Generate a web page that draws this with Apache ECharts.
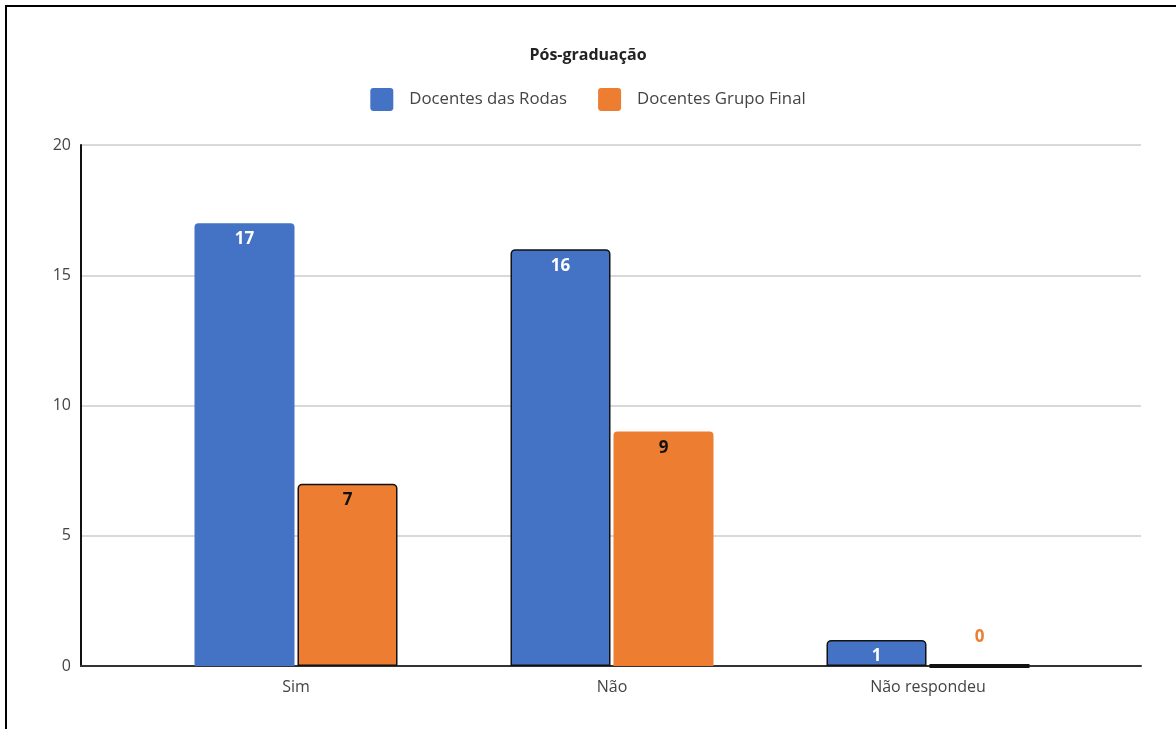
<!DOCTYPE html>
<html>
<head>
<meta charset="utf-8">
<script src="https://cdn.jsdelivr.net/npm/echarts@6/dist/echarts.min.js"></script>
<style>
  html, body { margin: 0; padding: 0; background: #fff; }
  #frame { position: absolute; left: 5px; top: 5px; width: 1180px; height: 740px;
           border-top: 2px solid #000; border-left: 2px solid #000; box-sizing: border-box; }
  #chart { position: absolute; left: 0; top: 0; width: 1176px; height: 729px; }
</style>
</head>
<body>
<div id="frame"></div>
<div id="chart"></div>
<script>
// Respostas sobre pós-graduação
const categories = ['Sim', 'Não', 'Não respondeu'];
const seriesNames = ['Docentes das Rodas', 'Docentes Grupo Final'];
const docentesRodas = [17, 16, 1];
const docentesGrupoFinal = [7, 9, 0];
const yTicks = [0, 5, 10, 15, 20];

const BLUE = '#4472C4';
const ORANGE = '#ED7D31';
const FONT = '"Open Sans", "Noto Sans", sans-serif';
const SQUARE = 'path://M3,0 H19 Q22,0 22,3 V19 Q22,22 19,22 H3 Q0,22 0,19 V3 Q0,0 3,0 Z';

// bars drawn with a dark outline (series index -> category indexes)
const outlined = { 0: [1, 2], 1: [0, 2] };

function buildData(values, seriesIdx, color) {
  return values.map((v, i) => {
    const item = { value: v };
    if (outlined[seriesIdx].includes(i)) {
      item.itemStyle = { borderColor: '#111', borderWidth: v === 0 ? 4 : 1.5 };
    }
    if (v === 0) {
      item.label = { position: 'top', distance: 18, color: color };
    }
    return item;
  });
}

const chart = echarts.init(document.getElementById('chart'));
chart.setOption({
  backgroundColor: 'transparent',
  animation: false,
  title: {
    text: 'Pós-graduação',
    left: 'center',
    top: 42,
    textStyle: { fontFamily: FONT, fontSize: 16, fontWeight: 'bold', color: '#222' }
  },
  legend: {
    top: 83,
    left: 'center',
    icon: SQUARE,
    itemWidth: 23,
    itemHeight: 23,
    itemGap: 31,
    data: seriesNames,
    textStyle: { fontFamily: FONT, fontSize: 16.8, color: '#444', padding: [0, 0, 0, 11] }
  },
  grid: [
    { left: 81, top: 145, width: 1060, height: 521 },
    { left: 138, top: 145, width: 948, height: 521 }
  ],
  xAxis: [
    {
      type: 'category', gridIndex: 0, data: [''],
      axisLine: { lineStyle: { color: '#333', width: 2 } },
      axisTick: { show: false }, axisLabel: { show: false }
    },
    {
      type: 'category', gridIndex: 1, data: categories,
      axisLine: { show: false }, axisTick: { show: false },
      axisLabel: { margin: 13, fontFamily: FONT, fontSize: 16, color: '#444' }
    }
  ],
  yAxis: [
    {
      type: 'value', gridIndex: 0, min: yTicks[0], max: yTicks[yTicks.length - 1], interval: 5,
      axisLine: { show: true, lineStyle: { color: '#111', width: 2 } },
      axisTick: { show: false },
      splitLine: { lineStyle: { color: '#ccc', width: 1.5 } },
      axisLabel: { margin: 10, fontFamily: FONT, fontSize: 16, color: '#444' }
    },
    {
      type: 'value', gridIndex: 1, min: yTicks[0], max: yTicks[yTicks.length - 1], interval: 5,
      show: false, splitLine: { show: false }
    }
  ],
  series: [
    {
      name: seriesNames[0], type: 'bar', xAxisIndex: 1, yAxisIndex: 1,
      data: buildData(docentesRodas, 0, BLUE),
      barWidth: 100, barGap: '3%',
      itemStyle: { color: BLUE, borderRadius: [4, 4, 0, 0] },
      label: { show: true, position: 'insideTop', distance: 8, color: '#fff',
               fontFamily: FONT, fontSize: 17, fontWeight: 'bold' },
      z: 3
    },
    {
      name: seriesNames[1], type: 'bar', xAxisIndex: 1, yAxisIndex: 1,
      data: buildData(docentesGrupoFinal, 1, ORANGE),
      barWidth: 100, barGap: '3%',
      itemStyle: { color: ORANGE, borderRadius: [4, 4, 0, 0] },
      label: { show: true, position: 'insideTop', distance: 8, color: '#111',
               fontFamily: FONT, fontSize: 17, fontWeight: 'bold' },
      z: 3
    }
  ]
});
</script>
</body>
</html>
